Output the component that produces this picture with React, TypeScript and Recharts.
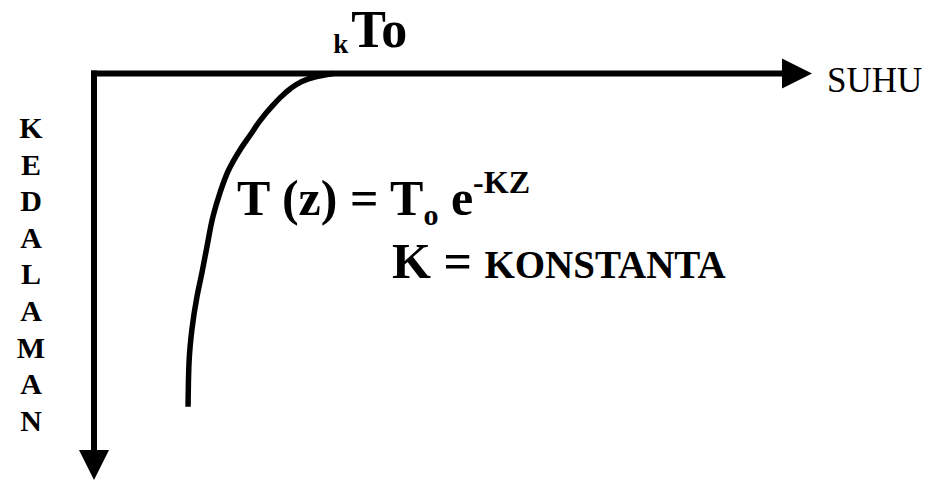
import { LineChart, Line, XAxis, YAxis, ReferenceLine, ReferenceDot } from 'recharts';

// kedalaman (depth) vs suhu (temperature)
const kedalaman = [0, 0.43, 1.1, 1.9, 3.0, 3.9, 5.8, 7.6, 9.4, 11.9, 14.7, 17.6, 21.3, 24.5, 27.5, 31.5, 35.6, 41];
const suhu = [10, 9.23, 8.61, 8.19, 7.77, 7.48, 6.94, 6.52, 6.1, 5.62, 5.26, 4.97, 4.72, 4.51, 4.3, 4.09, 3.97, 3.93];

const T0 = 10;
const suhuMax = 30;
const kedalamanMax = 50;
const suhuArrowBase = 28.75;
const kedalamanArrowBase = 46.3;

const kedalamanLetters = 'KEDALAMAN'.split('');

const data = kedalaman.map((d, i) => ({ kedalaman: d, suhu: suhu[i] }));

const W = 931;
const H = 482;
const margin = { top: 73.5, right: 119, bottom: 2, left: 94 };
const plotW = W - margin.left - margin.right;
const plotH = H - margin.top - margin.bottom;
const sx = (v: number) => margin.left + (v / suhuMax) * plotW;
const sy = (d: number) => margin.top + (d / kedalamanMax) * plotH;

const FONT = 'Liberation Serif';
const serif = { fontFamily: `"${FONT}"` };
const serifPre = { fontFamily: `"${FONT}"`, whiteSpace: 'pre' as const };

const SuhuArrow = ({ cx, cy }: any) => (
  <polygon points={`${cx},${cy} ${cx - 30},${cy - 15} ${cx - 30},${cy + 15}`} fill="#000" />
);

const KedalamanArrow = ({ cx, cy }: any) => (
  <polygon points={`${cx},${cy} ${cx - 15},${cy - 30} ${cx + 15},${cy - 30}`} fill="#000" />
);

// text layer drawn over the chart
const Labels = () => (
  <svg width={W} height={H} style={{ position: 'absolute', left: 0, top: 0, pointerEvents: 'none' }}>
    <text fontFamily={FONT} fontWeight="bold" fill="#000" style={serif}>
      <tspan x={sx(T0)} y={sy(0) - 20.5} fontSize={27} style={serif}>k</tspan>
      <tspan dx={3} y={sy(0) - 26.5} fontSize={52} style={serif}>To</tspan>
    </text>
    <text fontFamily={FONT} x={sx(suhuMax) + 15} y={sy(0) + 18.5} fontSize={35} fill="#000" style={serif}>
      SUHU
    </text>
    <text fontFamily={FONT} fontWeight="bold" fontSize={30} fill="#000" textAnchor="middle" style={serif}>
      {kedalamanLetters.map((ch, i) => (
        <tspan key={i} x={sx(0) - 63} y={sy(0) + 64.5 + i * 36.6} style={serif}>{ch}</tspan>
      ))}
    </text>
    <text fontFamily={FONT} fontWeight="bold" fill="#000" style={serifPre}>
      <tspan x={237} y={215} fontSize={50} style={serif}>T (z) = T</tspan>
      <tspan y={225} fontSize={30} style={serif}>o</tspan>
      <tspan y={215} fontSize={50} style={serif}>{' e'}</tspan>
      <tspan y={193} fontSize={32} style={serif}>-KZ</tspan>
    </text>
    <text fontFamily={FONT} fontWeight="bold" fill="#000" style={serifPre}>
      <tspan x={392} y={278} fontSize={50} style={serif}>{'K = '}</tspan>
      <tspan fontSize={39} style={serif}>KONSTANTA</tspan>
    </text>
  </svg>
);

export default function App() {
  return (
    <div style={{ position: 'absolute', left: 0, top: 0, width: W, height: H, background: '#fff' }}>
      <LineChart width={W} height={H} data={data} layout="vertical" margin={margin}>
        <XAxis type="number" orientation="top" domain={[0, suhuMax]} hide height={0} />
        <YAxis type="number" dataKey="kedalaman" domain={[0, kedalamanMax]} hide width={0} />
        <ReferenceLine
          segment={[{ x: 0, y: 0 }, { x: suhuArrowBase, y: 0 }]}
          stroke="#000"
          strokeWidth={6}
          strokeLinecap="square"
        />
        <ReferenceLine
          segment={[{ x: 0, y: 0 }, { x: 0, y: kedalamanArrowBase }]}
          stroke="#000"
          strokeWidth={6}
          strokeLinecap="square"
        />
        <ReferenceDot x={suhuMax} y={0} r={0} shape={SuhuArrow} />
        <ReferenceDot x={0} y={kedalamanMax} r={0} shape={KedalamanArrow} />
        <Line
          type="monotone"
          dataKey="suhu"
          stroke="#000"
          strokeWidth={5.5}
          dot={false}
          isAnimationActive={false}
        />
      </LineChart>
      <Labels />
    </div>
  );
}
